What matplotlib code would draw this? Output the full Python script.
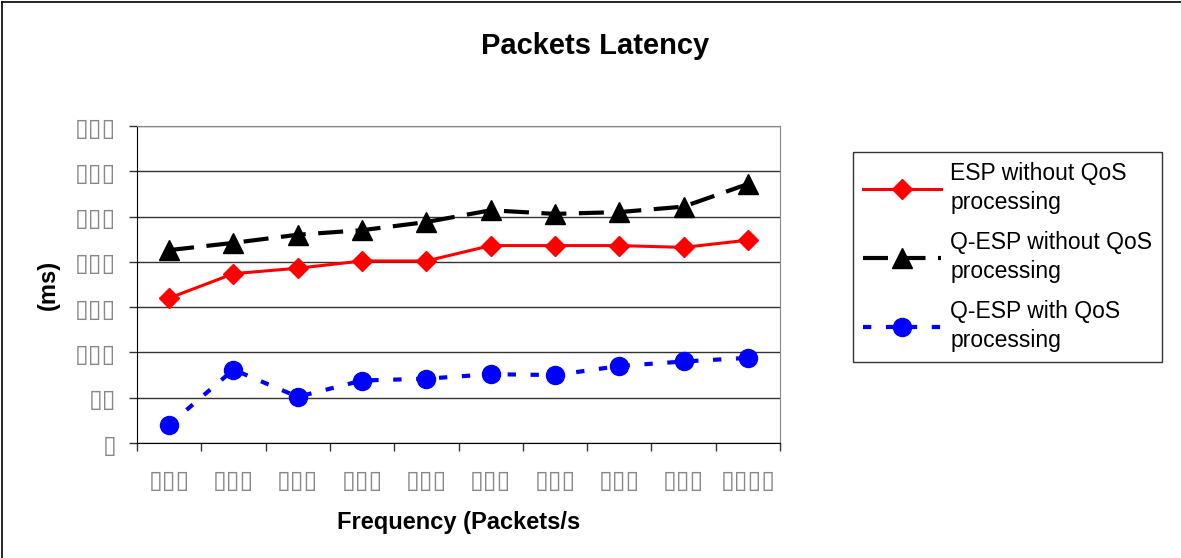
import matplotlib
matplotlib.use("Agg")
import matplotlib.pyplot as plt
from matplotlib.lines import Line2D
from matplotlib.ticker import FixedLocator, FuncFormatter

plt.rcParams['font.family'] = ['Liberation Sans', 'DejaVu Sans']

# packet rates and latency per configuration (ms)
rates = ['100', '200', '300', '400', '500', '600', '700', '800', '900', '1000']
esp_no_qos = [160, 187, 193, 201, 201, 218, 218, 218, 216, 224]
qesp_no_qos = [213, 221, 230, 235, 244, 257, 253, 255, 261, 286]
qesp_qos = [20, 81, 51, 69, 71, 76, 75, 85, 90, 94]
y_ticks = [0, 50, 100, 150, 200, 250, 300, 350]

BOX = '\u25af'


def boxed(text):
    # labels come out as empty glyph boxes, one per character
    return BOX * len(text)


fig = plt.figure(figsize=(11.81, 5.58), dpi=100)
ax = fig.add_axes([0.116, 0.2061, 0.5445, 0.568])

xs = list(range(len(rates)))
ax.plot(xs, esp_no_qos, color='#ff0000', lw=2.2, marker='D', ms=10,
        label='ESP without QoS\nprocessing', zorder=3)
ax.plot(xs, qesp_no_qos, color='black', lw=3, marker='^', ms=14,
        dashes=(6, 3), label='Q-ESP without QoS\nprocessing', zorder=3)
ax.plot(xs, qesp_qos, color='#0000ff', lw=3, marker='o', ms=13,
        dashes=(2, 3.5), label='Q-ESP with QoS\nprocessing', zorder=3)

ax.set_xlim(-0.5, len(rates) - 0.5)
ax.set_ylim(0, 350)

ax.yaxis.set_major_locator(FixedLocator(y_ticks))
ax.yaxis.set_major_formatter(FuncFormatter(lambda v, _: boxed(f'{v:.0f}')))
ax.grid(axis='y', color='#333333', lw=1)
ax.set_axisbelow(True)

# category boundaries get tick marks, category centres get the labels
ax.xaxis.set_major_locator(FixedLocator([i - 0.5 for i in range(len(rates) + 1)]))
ax.xaxis.set_major_formatter(FuncFormatter(lambda v, _: ''))
ax.xaxis.set_minor_locator(FixedLocator(xs))
ax.xaxis.set_minor_formatter(FuncFormatter(lambda v, p: boxed(rates[int(round(v))])))
ax.tick_params(axis='x', which='major', length=6, width=1, color='#333333')
ax.tick_params(axis='x', which='minor', length=0, pad=19, labelsize=18, labelcolor='#888888')
ax.tick_params(axis='y', length=6, width=1, color='#333333', pad=9,
               labelsize=18, labelcolor='#888888')

for side in ('top', 'right'):
    ax.spines[side].set_color('#888888')
ax.spines['left'].set_color('black')
ax.spines['bottom'].set_color('black')

fig.text(595 / 1181, 1 - 46 / 558, 'Packets Latency', fontsize=21,
         fontweight='bold', ha='center', va='center')
ax.set_xlabel('Frequency (Packets/s', fontsize=17, fontweight='bold', labelpad=13)
ax.set_ylabel('(ms)', fontsize=17, fontweight='bold', labelpad=11)

leg = fig.legend(loc='upper left', bbox_to_anchor=(0.722, 0.728),
                 bbox_transform=fig.transFigure, borderaxespad=0,
                 fontsize=16.5, handlelength=3.4, labelspacing=0.72,
                 fancybox=False, framealpha=1, edgecolor='#333333',
                 borderpad=0.45, handletextpad=0.4)
leg.get_frame().set_linewidth(1)
for t in leg.get_texts():
    t.set_linespacing(1.35)

# outer frame of the chart area
fig.add_artist(Line2D([0.002, 0.002], [0, 0.997], color='black', lw=1.2,
                      transform=fig.transFigure))
fig.add_artist(Line2D([0.002, 1], [0.997, 0.997], color='black', lw=1.2,
                      transform=fig.transFigure))

fig.savefig('out.png', dpi=100)
